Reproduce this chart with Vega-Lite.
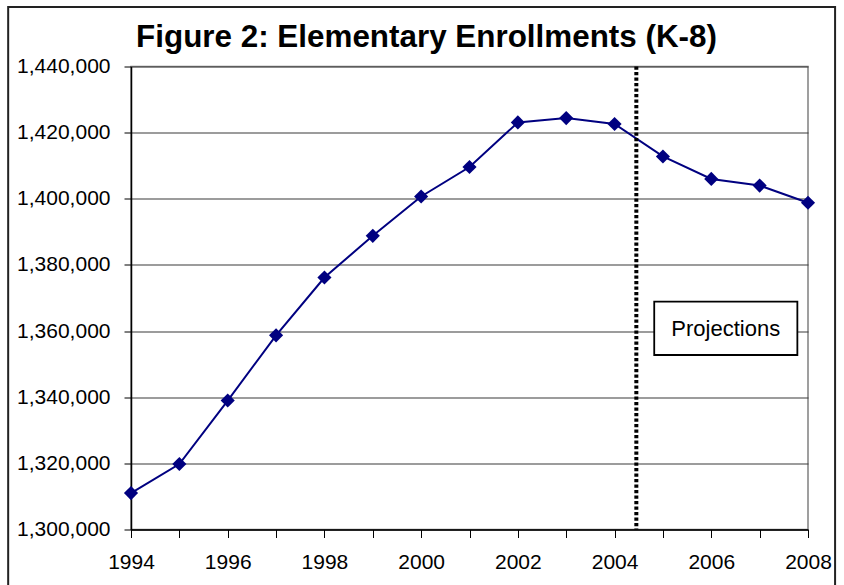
{
  "$schema": "https://vega.github.io/schema/vega-lite/v6.json",
  "width": 677,
  "height": 463,
  "autosize": {"type": "none"},
  "padding": {"left": 131, "top": 66.5, "right": 36, "bottom": 55.5},
  "background": "white",
  "config": {
    "font": "Liberation Sans, Arial, sans-serif",
    "view": {"stroke": "#808080", "strokeWidth": 1.5}
  },
  "title": {
    "text": "Figure 2:  Elementary Enrollments (K-8)",
    "font": "Liberation Sans, Arial, sans-serif",
    "fontSize": 31.4,
    "fontWeight": "bold",
    "color": "black",
    "anchor": "middle",
    "frame": "group",
    "baseline": "alphabetic",
    "offset": -72,
    "dx": -43
  },
  "datasets": {
    "enroll": [
      {"year": 1994, "enrollment": 1311000},
      {"year": 1995, "enrollment": 1319800},
      {"year": 1996, "enrollment": 1339000},
      {"year": 1997, "enrollment": 1358700},
      {"year": 1998, "enrollment": 1376200},
      {"year": 1999, "enrollment": 1388800},
      {"year": 2000, "enrollment": 1400700},
      {"year": 2001, "enrollment": 1409600},
      {"year": 2002, "enrollment": 1423100},
      {"year": 2003, "enrollment": 1424400},
      {"year": 2004, "enrollment": 1422600},
      {"year": 2005, "enrollment": 1412800},
      {"year": 2006, "enrollment": 1406000},
      {"year": 2007, "enrollment": 1404000},
      {"year": 2008, "enrollment": 1398800}
    ],
    "divider": [{"year": 2004.45}],
    "box": [{"x1": 2004.82, "x2": 2007.78, "y1": 1352760, "y2": 1368880, "xc": 2006.3, "yc": 1360600, "label": "Projections"}],
    "frame": [{"x1": 1991.46, "x2": 2008.56, "y1": 1270000, "y2": 1457990}]
  },
  "layer": [
    {
      "data": {"name": "frame"},
      "mark": {"type": "rect", "fill": null, "fillOpacity": 0, "stroke": "#222222", "strokeWidth": 2, "clip": false},
      "encoding": {
        "x": {"field": "x1", "type": "quantitative", "scale": {"domain": [1994, 2008], "nice": false, "zero": false}},
        "x2": {"field": "x2"},
        "y": {"field": "y1", "type": "quantitative", "scale": {"domain": [1300000, 1440000], "nice": false, "zero": false}},
        "y2": {"field": "y2"}
      }
    },
    {
      "data": {"name": "enroll"},
      "mark": {"type": "line", "color": "#000080", "strokeWidth": 2},
      "encoding": {
        "x": {
          "field": "year", "type": "quantitative",
          "scale": {"domain": [1994, 2008], "nice": false, "zero": false},
          "axis": {
            "title": null,
            "values": [1994, 1995, 1996, 1997, 1998, 1999, 2000, 2001, 2002, 2003, 2004, 2005, 2006, 2007, 2008],
            "labelExpr": "datum.value % 2 == 0 ? datum.value + '' : ''",
            "labelFontSize": 21,
            "labelColor": "black",
            "labelPadding": 14,
            "labelFlush": false,
            "labelOverlap": false,
            "tickSize": 8,
            "tickColor": "black",
            "domainColor": "black",
            "domainWidth": 1.5,
            "grid": false
          }
        },
        "y": {
          "field": "enrollment", "type": "quantitative",
          "scale": {"domain": [1300000, 1440000], "nice": false, "zero": false},
          "axis": {
            "title": null,
            "values": [1300000, 1320000, 1340000, 1360000, 1380000, 1400000, 1420000, 1440000],
            "format": ",d",
            "labelFontSize": 21,
            "labelColor": "black",
            "labelPadding": 14,
            "labelFlush": false,
            "tickSize": 7,
            "tickColor": "black",
            "domainColor": "black",
            "domainWidth": 1.5,
            "grid": true,
            "gridColor": "#3a3a3a",
            "gridWidth": 1.2
          }
        }
      }
    },
    {
      "data": {"name": "enroll"},
      "mark": {"type": "point", "shape": "diamond", "filled": true, "color": "#000080", "size": 200, "opacity": 1},
      "encoding": {
        "x": {"field": "year", "type": "quantitative"},
        "y": {"field": "enrollment", "type": "quantitative"}
      }
    },
    {
      "data": {"name": "divider"},
      "mark": {"type": "rule", "color": "black", "strokeWidth": 4, "strokeDash": [3.3, 2.2]},
      "encoding": {
        "x": {"field": "year", "type": "quantitative"}
      }
    },
    {
      "data": {"name": "box"},
      "mark": {"type": "rect", "fill": "white", "stroke": "black", "strokeWidth": 1.8},
      "encoding": {
        "x": {"field": "x1", "type": "quantitative"},
        "x2": {"field": "x2"},
        "y": {"field": "y1", "type": "quantitative"},
        "y2": {"field": "y2"}
      }
    },
    {
      "data": {"name": "box"},
      "mark": {"type": "text", "fontSize": 22, "color": "black", "align": "center", "baseline": "middle", "font": "Liberation Sans, Arial, sans-serif"},
      "encoding": {
        "x": {"field": "xc", "type": "quantitative"},
        "y": {"field": "yc", "type": "quantitative"},
        "text": {"field": "label"}
      }
    }
  ]
}
